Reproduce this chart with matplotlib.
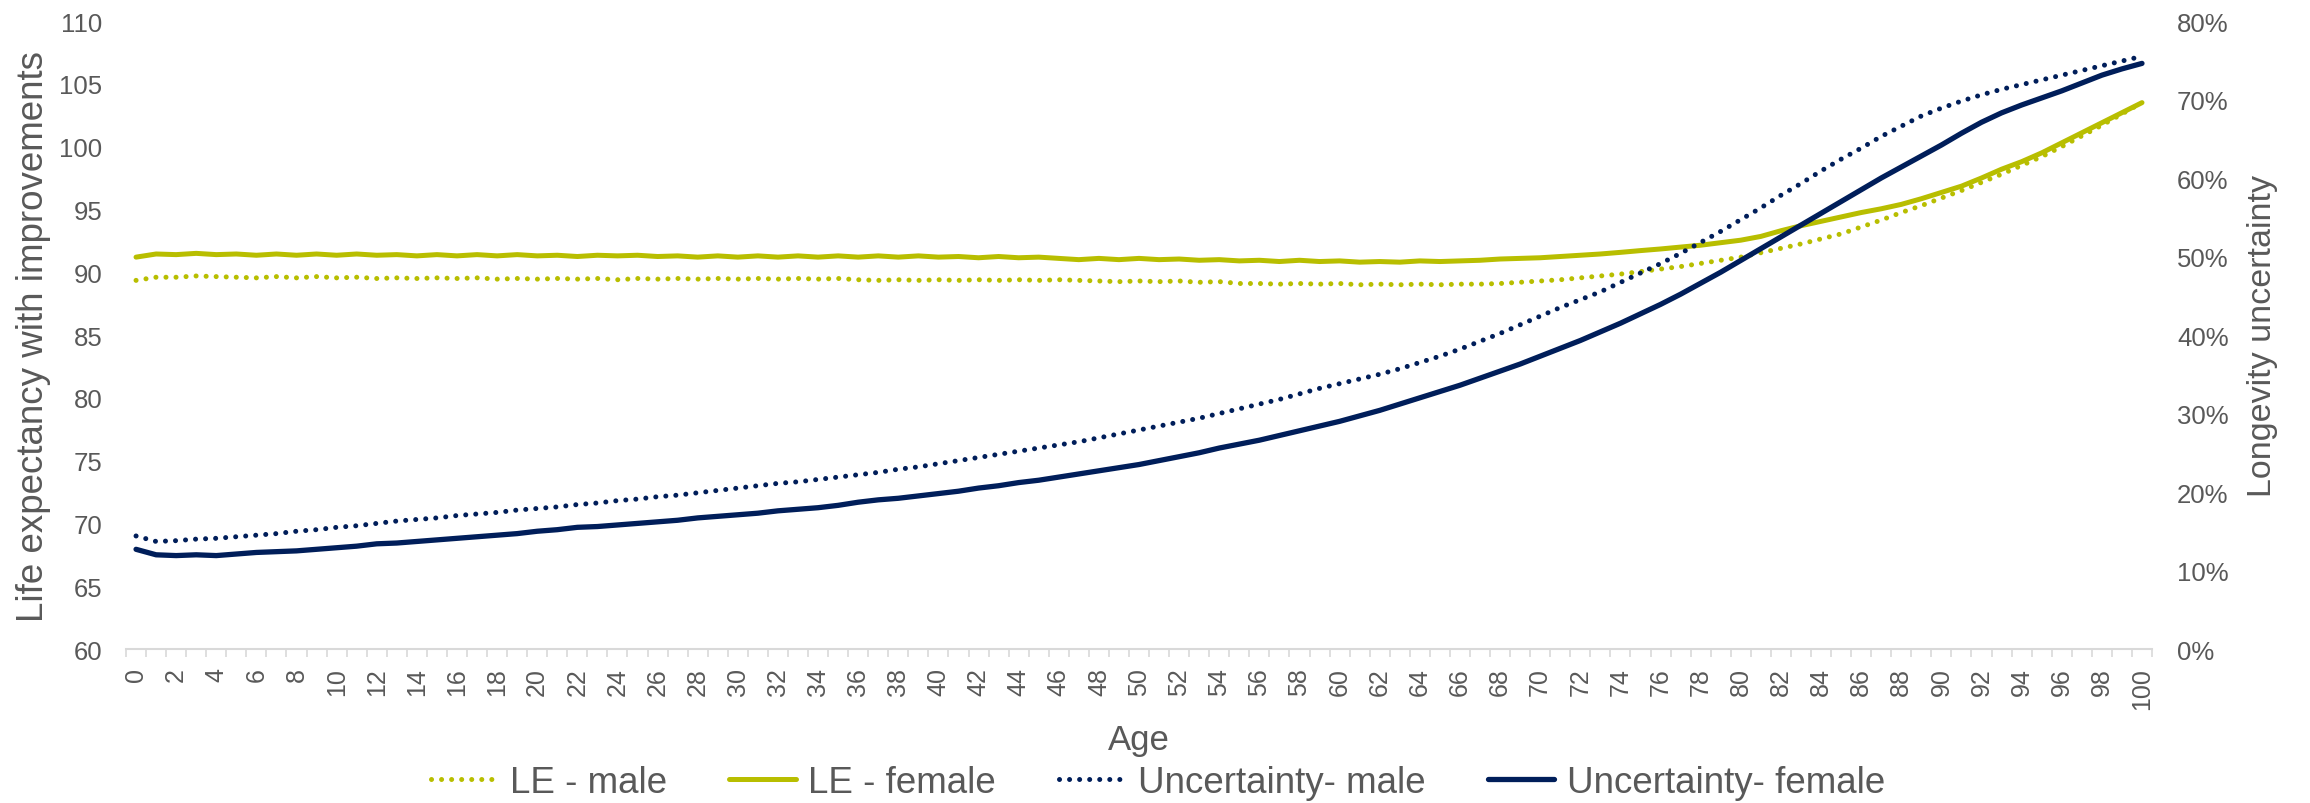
import matplotlib
matplotlib.use("Agg")
import matplotlib.pyplot as plt
from matplotlib.ticker import PercentFormatter, MultipleLocator, FixedLocator

ages = list(range(0, 101))

le_male = [
    89.35, 89.60, 89.60, 89.70, 89.65, 89.60, 89.55, 89.65, 89.55, 89.65,
    89.55, 89.60, 89.50, 89.55, 89.50, 89.55, 89.50, 89.55, 89.45, 89.50,
    89.45, 89.50, 89.45, 89.50, 89.40, 89.50, 89.45, 89.50, 89.45, 89.50,
    89.45, 89.50, 89.45, 89.50, 89.45, 89.50, 89.40, 89.35, 89.40, 89.35,
    89.40, 89.35, 89.40, 89.35, 89.40, 89.35, 89.40, 89.35, 89.30, 89.25,
    89.30, 89.25, 89.30, 89.20, 89.25, 89.10, 89.10, 89.05, 89.10, 89.05,
    89.10, 89.00, 89.05, 89.00, 89.05, 89.00, 89.05, 89.05, 89.10, 89.20,
    89.30, 89.40, 89.55, 89.70, 89.85, 90.05, 90.25, 90.45, 90.70, 90.95,
    91.20, 91.55, 91.90, 92.25, 92.65, 93.05, 93.60, 94.15, 94.75, 95.30,
    95.90, 96.50, 97.15, 97.80, 98.50, 99.20, 100.00, 100.85, 101.70, 102.60,
    103.50,
]

le_female = [
    91.20, 91.45, 91.40, 91.50, 91.40, 91.45, 91.35, 91.45, 91.35, 91.45,
    91.35, 91.45, 91.35, 91.40, 91.30, 91.40, 91.30, 91.40, 91.30, 91.40,
    91.30, 91.35, 91.25, 91.35, 91.30, 91.35, 91.25, 91.30, 91.20, 91.30,
    91.20, 91.30, 91.20, 91.30, 91.20, 91.30, 91.20, 91.30, 91.20, 91.30,
    91.20, 91.25, 91.15, 91.25, 91.15, 91.20, 91.10, 91.00, 91.10, 91.00,
    91.10, 91.00, 91.05, 90.95, 91.00, 90.90, 90.95, 90.85, 90.95, 90.85,
    90.90, 90.80, 90.85, 90.80, 90.90, 90.85, 90.90, 90.95, 91.05, 91.10,
    91.15, 91.25, 91.35, 91.45, 91.58, 91.72, 91.85, 92.00, 92.15, 92.35,
    92.55, 92.85, 93.30, 93.70, 94.05, 94.40, 94.75, 95.05, 95.40, 95.85,
    96.35, 96.85, 97.50, 98.20, 98.80, 99.50, 100.30, 101.10, 101.90, 102.70,
    103.50,
]

unc_male = [
    0.144, 0.137, 0.138, 0.140, 0.141, 0.143, 0.145, 0.147, 0.150, 0.152,
    0.155, 0.157, 0.160, 0.163, 0.165, 0.167, 0.170, 0.172, 0.174, 0.177,
    0.179, 0.181, 0.184, 0.186, 0.189, 0.191, 0.194, 0.196, 0.199, 0.202,
    0.205, 0.208, 0.211, 0.213, 0.216, 0.219, 0.222, 0.225, 0.229, 0.232,
    0.236, 0.240, 0.244, 0.248, 0.252, 0.256, 0.260, 0.264, 0.269, 0.274,
    0.279, 0.284, 0.289, 0.294, 0.300, 0.306, 0.312, 0.318, 0.325, 0.332,
    0.338, 0.344, 0.350, 0.357, 0.365, 0.373, 0.382, 0.392, 0.402, 0.413,
    0.424, 0.435, 0.445, 0.455, 0.467, 0.479, 0.491, 0.504, 0.518, 0.532,
    0.547, 0.562, 0.578, 0.593, 0.609, 0.624, 0.638, 0.653, 0.666, 0.679,
    0.689, 0.698, 0.706, 0.713, 0.719, 0.725, 0.731, 0.737, 0.743, 0.749,
    0.755,
]

unc_female = [
    0.127, 0.120, 0.119, 0.120, 0.119, 0.121, 0.123, 0.124, 0.125, 0.127,
    0.129, 0.131, 0.134, 0.135, 0.137, 0.139, 0.141, 0.143, 0.145, 0.147,
    0.150, 0.152, 0.155, 0.156, 0.158, 0.160, 0.162, 0.164, 0.167, 0.169,
    0.171, 0.173, 0.176, 0.178, 0.180, 0.183, 0.187, 0.190, 0.192, 0.195,
    0.198, 0.201, 0.205, 0.208, 0.212, 0.215, 0.219, 0.223, 0.227, 0.231,
    0.235, 0.240, 0.245, 0.250, 0.256, 0.261, 0.266, 0.272, 0.278, 0.284,
    0.290, 0.297, 0.304, 0.312, 0.320, 0.328, 0.336, 0.345, 0.354, 0.363,
    0.373, 0.383, 0.393, 0.404, 0.415, 0.427, 0.439, 0.452, 0.466, 0.480,
    0.495, 0.510, 0.525, 0.540, 0.555, 0.570, 0.585, 0.600, 0.614, 0.628,
    0.642, 0.657, 0.671, 0.683, 0.693, 0.702, 0.711, 0.721, 0.731, 0.739,
    0.746,
]

GREEN = "#B8BE00"
NAVY = "#001E5A"
GREY = "#595959"
AXIS_GREY = "#D9D9D9"

plt.rcParams.update({
    "font.family": ["Liberation Sans", "DejaVu Sans"],
    "text.color": GREY,
    "axes.labelcolor": GREY,
    "xtick.color": GREY,
    "ytick.color": GREY,
})

dots = (0, (0.01, 2.0))

fig = plt.figure(figsize=(23.1, 8.04), dpi=100)
ax = fig.add_axes([0.05455, 0.19154, 0.87706, 0.78109])

ax.plot(ages, le_male, color=GREEN, lw=3.6, linestyle=dots,
        dash_capstyle="round", label="LE - male")
ax.plot(ages, le_female, color=GREEN, lw=3.6, solid_capstyle="round",
        label="LE - female")

ax.set_xlim(-0.5, 100.5)
ax.set_ylim(60, 110)
ax.yaxis.set_major_locator(MultipleLocator(5))
ax.set_xticks(range(0, 101, 2))
ax.xaxis.set_minor_locator(FixedLocator([a - 0.5 for a in range(0, 102)]))
ax.tick_params(axis="x", which="major", length=0, labelsize=18,
               labelrotation=90, pad=13)
ax.tick_params(axis="x", which="minor", length=6, width=1.2, color=AXIS_GREY)
ax.tick_params(axis="y", length=0, labelsize=18.5, pad=17)
for lab in ax.get_xticklabels():
    lab.set_verticalalignment("top")

for side in ["top", "left", "right"]:
    ax.spines[side].set_visible(False)
ax.spines["bottom"].set_color(AXIS_GREY)
ax.spines["bottom"].set_linewidth(1.5)

ax.set_xlabel("Age", fontsize=25, labelpad=10)
ax.set_ylabel("Life expectancy with improvements", fontsize=26.5, labelpad=6)

ax2 = ax.twinx()
ax2.plot(ages, unc_male, color=NAVY, lw=3.6, linestyle=dots,
         dash_capstyle="round", label="Uncertainty- male")
ax2.plot(ages, unc_female, color=NAVY, lw=3.8, solid_capstyle="round",
         label="Uncertainty- female")
ax2.set_ylim(0, 0.8)
ax2.yaxis.set_major_locator(MultipleLocator(0.1))
ax2.yaxis.set_major_formatter(PercentFormatter(1.0, decimals=0))
ax2.tick_params(axis="y", length=0, labelsize=18.5, pad=18)
for side in ["top", "left", "right", "bottom"]:
    ax2.spines[side].set_visible(False)
ax2.set_ylabel("Longevity uncertainty", fontsize=24.5, labelpad=13)

handles = ax.get_lines() + ax2.get_lines()
fig.legend(handles, [h.get_label() for h in handles],
           loc="center", bbox_to_anchor=(0.5013, 0.026), ncol=4,
           frameon=False, fontsize=26.5, handlelength=1.8,
           handletextpad=0.35, columnspacing=1.7, borderaxespad=0,
           borderpad=0)

fig.savefig("out.png", dpi=100)
